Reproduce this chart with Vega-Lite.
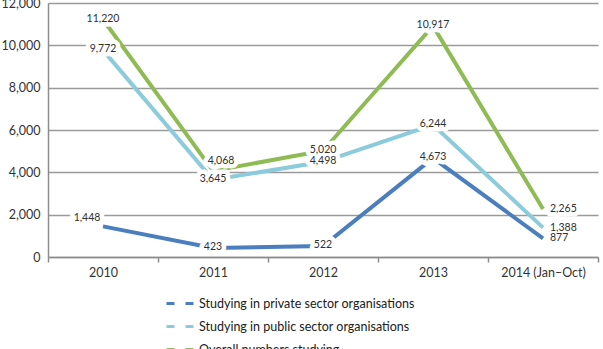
{
  "$schema": "https://vega.github.io/schema/vega-lite/v6.json",
  "autosize": {"type": "none"},
  "width": 550,
  "height": 254,
  "padding": {"left": 48, "top": 3, "right": 5, "bottom": 92},
  "background": "white",
  "config": {
    "font": "Lato",
    "view": {"stroke": null},
    "axis": {"labelFont": "Lato", "labelFontSize": 12.5, "labelColor": "#333333"}
  },
  "data": {
    "values": [
      {"year": "2010", "series": "Studying in private sector organisations", "value": 1448},
      {"year": "2011", "series": "Studying in private sector organisations", "value": 423},
      {"year": "2012", "series": "Studying in private sector organisations", "value": 522},
      {"year": "2013", "series": "Studying in private sector organisations", "value": 4673},
      {"year": "2014 (Jan–Oct)", "series": "Studying in private sector organisations", "value": 877},
      {"year": "2010", "series": "Studying in public sector organisations", "value": 9772},
      {"year": "2011", "series": "Studying in public sector organisations", "value": 3645},
      {"year": "2012", "series": "Studying in public sector organisations", "value": 4498},
      {"year": "2013", "series": "Studying in public sector organisations", "value": 6244},
      {"year": "2014 (Jan–Oct)", "series": "Studying in public sector organisations", "value": 1388},
      {"year": "2010", "series": "Overall numbers studying", "value": 11220},
      {"year": "2011", "series": "Overall numbers studying", "value": 4068},
      {"year": "2012", "series": "Overall numbers studying", "value": 5020},
      {"year": "2013", "series": "Overall numbers studying", "value": 10917},
      {"year": "2014 (Jan–Oct)", "series": "Overall numbers studying", "value": 2265}
    ]
  },
  "encoding": {
    "x": {
      "field": "year", "type": "nominal", "sort": null,
      "scale": {"type": "band", "paddingInner": 0, "paddingOuter": 0},
      "axis": {
        "title": null, "labelAngle": 0, "tickBand": "extent",
        "domainColor": "#8c8c8c", "domainWidth": 1.5,
        "tickColor": "#8c8c8c", "tickWidth": 1.5, "tickSize": 5,
        "labelPadding": 4, "grid": false
      }
    },
    "y": {
      "field": "value", "type": "quantitative",
      "scale": {"domain": [0, 12000], "nice": false},
      "axis": {
        "title": null, "values": [0, 2000, 4000, 6000, 8000, 10000, 12000],
        "labelExpr": "format(datum.value, ',')", "ticks": false, "labelPadding": 8,
        "domainColor": "#8c8c8c", "domainWidth": 1.5,
        "gridColor": "#9a9a9a", "gridWidth": 1.5
      }
    }
  },
  "layer": [
    {
      "mark": {"type": "line", "strokeWidth": 4},
      "encoding": {
        "color": {
          "field": "series", "type": "nominal",
          "scale": {
            "domain": ["Studying in private sector organisations", "Studying in public sector organisations", "Overall numbers studying"],
            "range": ["#4a7ebf", "#8ccbdc", "#8fbb55"]
          },
          "legend": {
            "title": null, "orient": "none", "legendX": 117, "legendY": 284,
            "direction": "vertical",
            "symbolType": "stroke", "symbolSize": 900, "symbolStrokeWidth": 3,
            "symbolDash": [8, 11],
            "labelFont": "Lato", "labelFontSize": 12.5, "labelColor": "#202020",
            "labelLimit": 400, "labelOffset": 1, "rowPadding": -14
          }
        }
      }
    },
    {
      "transform": [{"filter": "datum.year != '2014 (Jan–Oct)' && !(datum.year == '2011' && datum.value == 4068) && !(datum.year == '2010' && datum.value == 1448)"}],
      "layer": [
        {"mark": {"type": "text", "fontSize": 10.5, "stroke": "white", "strokeWidth": 9, "strokeJoin": "round", "fill": "white", "dy": -1}},
        {"mark": {"type": "text", "fontSize": 10.5, "fill": "#303030", "dy": -1}}
      ],
      "encoding": {"text": {"field": "value", "format": ","}}
    },
    {
      "transform": [{"filter": "datum.year == '2011' && datum.value == 4068"}],
      "layer": [
        {"mark": {"type": "text", "fontSize": 10.5, "stroke": "white", "strokeWidth": 9, "strokeJoin": "round", "fill": "white", "dx": 8, "dy": -10}},
        {"mark": {"type": "text", "fontSize": 10.5, "fill": "#303030", "dx": 8, "dy": -10}}
      ],
      "encoding": {"text": {"field": "value", "format": ","}}
    },
    {
      "transform": [{"filter": "datum.year == '2010' && datum.value == 1448"}],
      "layer": [
        {"mark": {"type": "text", "fontSize": 10.5, "stroke": "white", "strokeWidth": 9, "strokeJoin": "round", "fill": "white", "dx": -16, "dy": -8}},
        {"mark": {"type": "text", "fontSize": 10.5, "fill": "#303030", "dx": -16, "dy": -8}}
      ],
      "encoding": {"text": {"field": "value", "format": ","}}
    },
    {
      "transform": [{"filter": "datum.year == '2014 (Jan–Oct)'"}],
      "layer": [
        {"mark": {"type": "text", "fontSize": 10.5, "stroke": "white", "strokeWidth": 9, "strokeJoin": "round", "fill": "white", "align": "left", "dx": 7}},
        {"mark": {"type": "text", "fontSize": 10.5, "fill": "#303030", "align": "left", "dx": 7}}
      ],
      "encoding": {"text": {"field": "value", "format": ","}}
    }
  ]
}
